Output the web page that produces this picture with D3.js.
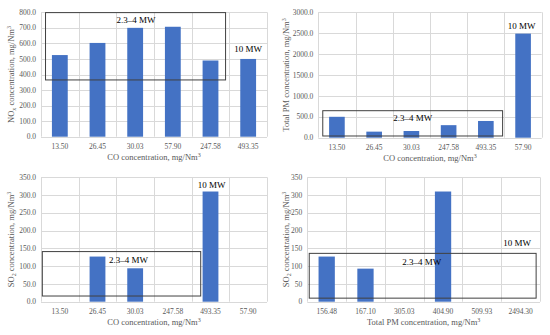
<!DOCTYPE html>
<html>
<head>
<meta charset="utf-8">
<script src="https://cdn.jsdelivr.net/npm/d3@7"></script>
<style>
  body { margin: 0; background: #fff; }
  svg { font-family: "Liberation Serif", "Times New Roman", serif; }
</style>
</head>
<body>
<div id="vis"></div>
<script>
// categories and values
var coLabelsA = ["13.50", "26.45", "30.03", "57.90", "247.58", "493.35"];
var noxValues = [525, 603, 700, 707, 490, 500];

var coLabelsB = ["13.50", "26.45", "30.03", "247.58", "493.35", "57.90"];
var pmValues = [500, 145, 160, 300, 400, 2490];
var so2ValuesCO = [0, 127, 94, 0, 310, 0];

var pmLabels = ["156.48", "167.10", "305.03", "404.90", "509.93", "2494.30"];
var so2ValuesPM = [127, 93, 0, 310, 0, 0];

var yTicksNox = [0, 100, 200, 300, 400, 500, 600, 700, 800];
var yTicksPm = [0, 500, 1000, 1500, 2000, 2500, 3000];
var yTicksSo2 = [0, 50, 100, 150, 200, 250, 300, 350];

var svg = d3.select("#vis").append("svg")
    .attr("width", 550)
    .attr("height", 335);

var barColor = "#4472c4",
    gridColor = "#d9d9d9",
    tickColor = "#595959";

function panel(opt) {
  var x = d3.scaleBand()
    .domain(opt.cats)
    .range([opt.left, opt.right])
    .padding(0);
  // index scale for the annotation boxes
  var xi = d3.scaleLinear().domain([0, opt.cats.length]).range([opt.left, opt.right]);
  var y = d3.scaleLinear()
    .domain([0, opt.yMax])
    .range([opt.bottom, opt.top]);

  var g = svg.append("g");

  // horizontal gridlines
  g.selectAll("line.hg")
    .data(opt.ticks)
    .enter().append("line")
      .attr("x1", opt.left).attr("x2", opt.right)
      .attr("y1", function(d) { return Math.round(y(d)) + 0.5; })
      .attr("y2", function(d) { return Math.round(y(d)) + 0.5; })
      .attr("stroke", gridColor).attr("stroke-width", 1);

  // vertical gridlines at category borders
  var edges = opt.cats.map(function(c) { return x(c); }).concat([opt.right]);
  g.selectAll("line.vg")
    .data(edges)
    .enter().append("line")
      .attr("x1", function(d) { return Math.round(d) + 0.5; })
      .attr("x2", function(d) { return Math.round(d) + 0.5; })
      .attr("y1", opt.top).attr("y2", opt.bottom)
      .attr("stroke", gridColor).attr("stroke-width", 1);

  // bars
  var bw = x.bandwidth() * 0.42;
  g.selectAll("rect.bar")
    .data(opt.values)
    .enter().append("rect")
      .attr("x", function(d, i) { return x(opt.cats[i]) + (x.bandwidth() - bw) / 2; })
      .attr("y", function(d) { return y(d); })
      .attr("width", bw)
      .attr("height", function(d) { return y(0) - y(d); })
      .attr("fill", barColor);

  // y tick labels
  g.selectAll("text.yt")
    .data(opt.ticks)
    .enter().append("text")
      .attr("x", opt.left - 5)
      .attr("y", function(d) { return y(d); })
      .attr("dy", "0.35em")
      .attr("text-anchor", "end")
      .attr("font-size", "7.5px")
      .attr("fill", tickColor)
      .text(function(d) { return d3.format(opt.fmt)(d); });

  // x tick labels
  g.selectAll("text.xt")
    .data(opt.cats)
    .enter().append("text")
      .attr("x", function(d) { return x(d) + x.bandwidth() / 2; })
      .attr("y", opt.bottom + 12)
      .attr("text-anchor", "middle")
      .attr("font-size", "7.5px")
      .attr("fill", tickColor)
      .text(function(d) { return d; });

  // x title
  var xt = g.append("text")
    .attr("x", (opt.left + opt.right) / 2)
    .attr("y", opt.bottom + 23)
    .attr("text-anchor", "middle")
    .attr("font-size", "8.5px")
    .attr("fill", tickColor);
  xt.append("tspan").text(opt.xTitle);
  xt.append("tspan").attr("font-size", "6px").attr("dy", "-3").text("3");

  // y title (rotated)
  var yt = g.append("text")
    .attr("transform", "translate(" + opt.yTitleX + "," + (opt.top + opt.bottom) / 2 + ") rotate(-90)")
    .attr("text-anchor", "middle")
    .attr("font-size", "8.5px")
    .attr("fill", tickColor);
  yt.append("tspan").text(opt.yTitle[0]);
  if (opt.yTitle[1]) {
    yt.append("tspan").attr("font-size", "6px").attr("dy", "2").text(opt.yTitle[1]);
    yt.append("tspan").attr("dy", "-2").text(opt.yTitle[2]);
  }
  yt.append("tspan").attr("font-size", "6px").attr("dy", "-3").text("3");

  // 2.3-4 MW box
  var b = opt.box;
  g.append("rect")
    .attr("x", xi(b.x0))
    .attr("y", y(b.y1))
    .attr("width", xi(b.x1) - xi(b.x0))
    .attr("height", y(b.y0) - y(b.y1))
    .attr("fill", "none")
    .attr("stroke", "#404040")
    .attr("stroke-width", 1);

  g.selectAll("text.note")
    .data(opt.notes)
    .enter().append("text")
      .attr("x", function(d) { return xi(d.x); })
      .attr("y", function(d) { return y(d.y); })
      .attr("text-anchor", "middle")
      .attr("font-size", "9px")
      .attr("fill", "#000")
      .text(function(d) { return d.t; });
}

panel({
  cats: coLabelsA, values: noxValues, yMax: 800, ticks: yTicksNox, fmt: ".1f",
  left: 41, right: 267, top: 12.3, bottom: 136.7, yTitleX: 14,
  xTitle: "CO concentration, mg/Nm", yTitle: ["NO", "x", " concentration, mg/Nm"],
  box: {x0: 0.12, x1: 4.9, y0: 365, y1: 798},
  notes: [{x: 2.52, y: 731, t: "2.3\u20134 MW"}, {x: 5.5, y: 545, t: "10 MW"}]
});

panel({
  cats: coLabelsB, values: pmValues, yMax: 3000, ticks: yTicksPm, fmt: ".1f",
  left: 318.3, right: 541.7, top: 12.3, bottom: 137.7, yTitleX: 289,
  xTitle: "CO concentration, mg/Nm", yTitle: ["Total PM concentration, mg/Nm"],
  box: {x0: 0.12, x1: 4.95, y0: 41, y1: 646},
  notes: [{x: 2.54, y: 400, t: "2.3\u20134 MW"}, {x: 5.46, y: 2600, t: "10 MW"}]
});

panel({
  cats: coLabelsB, values: so2ValuesCO, yMax: 350, ticks: yTicksSo2, fmt: ".1f",
  left: 41, right: 267, top: 177.3, bottom: 301.7, yTitleX: 14,
  xTitle: "CO concentration, mg/Nm", yTitle: ["SO", "2", " concentration, mg/Nm"],
  box: {x0: 0.035, x1: 4.24, y0: 16, y1: 141},
  notes: [{x: 2.32, y: 110, t: "2.3\u20134 MW"}, {x: 4.53, y: 320, t: "10 MW"}]
});

panel({
  cats: pmLabels, values: so2ValuesPM, yMax: 350, ticks: yTicksSo2, fmt: "d",
  left: 307.3, right: 540, top: 177.3, bottom: 301.7, yTitleX: 289,
  xTitle: "Total PM concentration, mg/Nm", yTitle: ["SO", "2", " concentration, mg/Nm"],
  box: {x0: 0.05, x1: 5.9, y0: 10, y1: 136},
  notes: [{x: 2.95, y: 103, t: "2.3\u20134 MW"}, {x: 5.41, y: 157, t: "10 MW"}]
});
</script>
</body>
</html>
